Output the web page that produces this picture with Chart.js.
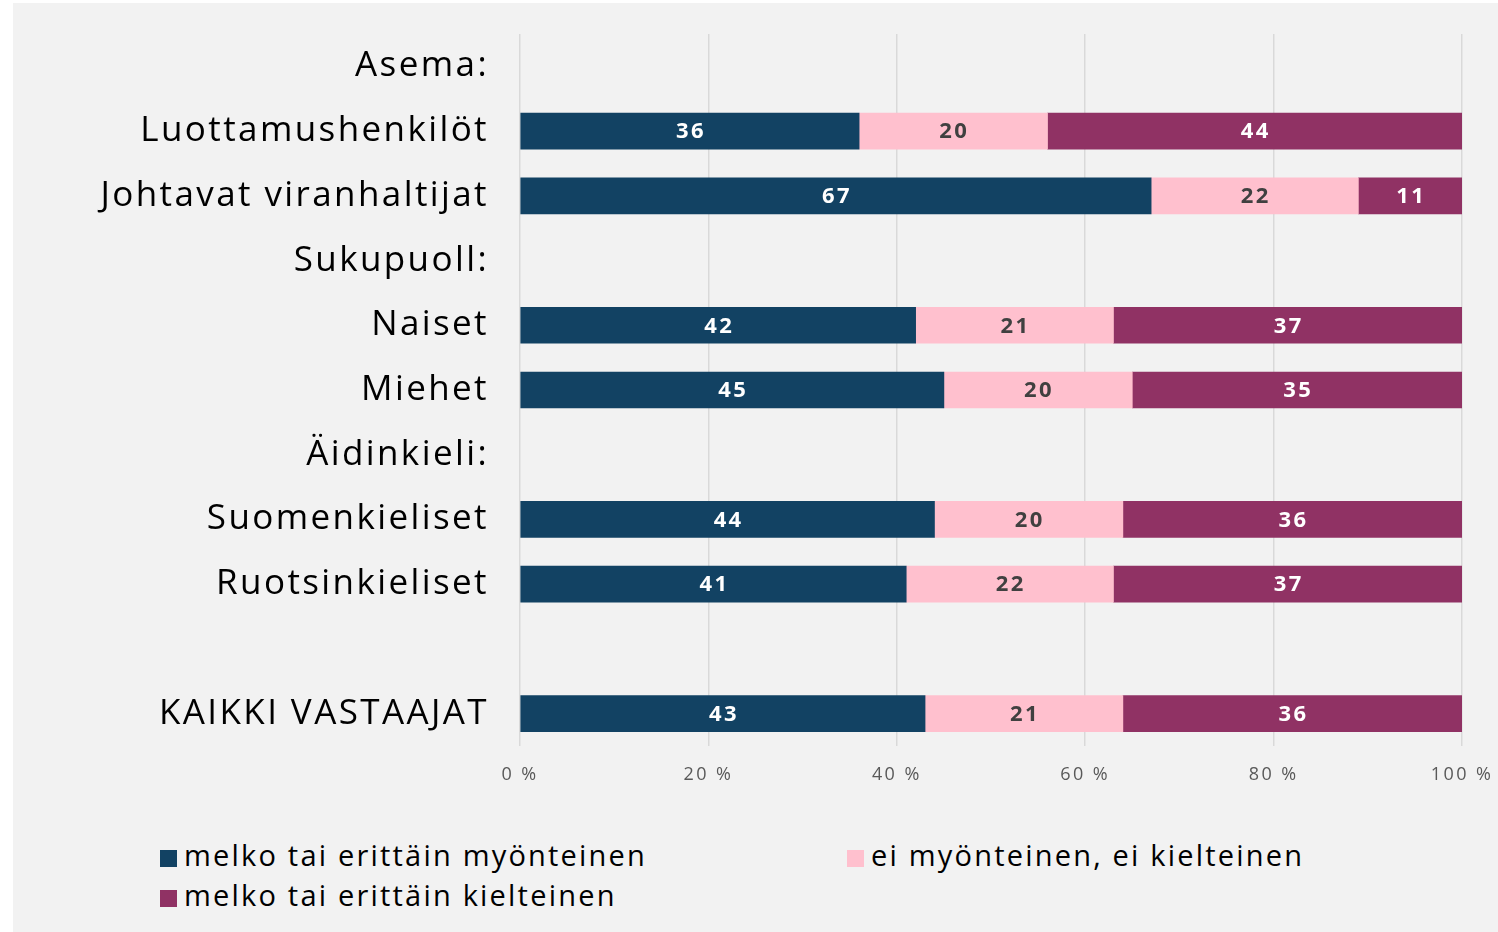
<!DOCTYPE html>
<html>
<head>
<meta charset="utf-8">
<script src="https://cdn.jsdelivr.net/npm/chart.js@4.4.0/dist/chart.umd.min.js"></script>
<style>
  html, body { margin: 0; padding: 0; background: #ffffff; }
  #kehys { position: absolute; left: 13px; top: 3px; width: 1485px; height: 929px; background: #f2f2f2; }
  #kaavio { position: absolute; left: 0; top: 0; width: 1485px; height: 800px; }
  .selite { position: absolute; font-family: "Open Sans", sans-serif; font-size: 29px; letter-spacing: 2.2px; color: #000; white-space: nowrap; line-height: 40px; }
  .selite span { display: inline-block; width: 17px; height: 17px; margin-right: 7px; vertical-align: -1px; }
</style>
</head>
<body>
<div id="kehys">
  <div id="kaavio"><canvas id="graafi"></canvas></div>
  <div id="selitteet"></div>
</div>
<script>
const ryhmat = ['Asema:', 'Luottamushenkilöt', 'Johtavat viranhaltijat', 'Sukupuoll:', 'Naiset', 'Miehet', 'Äidinkieli:', 'Suomenkieliset', 'Ruotsinkieliset', '', 'KAIKKI VASTAAJAT'];
const sarjat = ['melko tai erittäin myönteinen', 'ei myönteinen, ei kielteinen', 'melko tai erittäin kielteinen'];
const myonteinen = [null, 36, 67, null, 42, 45, null, 44, 41, null, 43];
const neutraali = [null, 20, 22, null, 21, 20, null, 20, 22, null, 21];
const kielteinen = [null, 44, 11, null, 37, 35, null, 36, 37, null, 36];
const varit = ['#124263', '#ffc0ce', '#903264'];
const tekstivarit = ['#ffffff', '#404040', '#ffffff'];
const akseliTicks = [0, 20, 40, 60, 80, 100];

// väljempi kirjainväli koko kaavioon
const kirjainvali = {
    id: 'kirjainvali',
    beforeDraw(chart) { chart.ctx.letterSpacing = '2.4px'; },
    afterDraw(chart) { chart.ctx.letterSpacing = '0px'; }
};

// arvot palkkien keskelle
const arvoTekstit = {
    id: 'arvoTekstit',
    afterDatasetsDraw(chart) {
        const ctx = chart.ctx;
        ctx.save();
        ctx.font = 'bold 22px "Open Sans", sans-serif';
        ctx.letterSpacing = '2.4px';
        ctx.textAlign = 'center';
        ctx.textBaseline = 'middle';
        chart.data.datasets.forEach((ds, i) => {
            chart.getDatasetMeta(i).data.forEach((bar, j) => {
                const v = ds.data[j];
                if (v == null) return;
                ctx.fillStyle = tekstivarit[i];
                ctx.fillText(v, (bar.x + bar.base) / 2 + 1, bar.y + 1);
            });
        });
        ctx.restore();
    }
};

const ctx = document.getElementById('graafi').getContext('2d');
new Chart(ctx, {
    type: 'bar',
    data: {
        labels: ryhmat,
        datasets: [
            { label: sarjat[0], data: myonteinen, backgroundColor: varit[0], barThickness: 36 },
            { label: sarjat[1], data: neutraali, backgroundColor: varit[1], barThickness: 36 },
            { label: sarjat[2], data: kielteinen, backgroundColor: varit[2], barThickness: 36 }
        ]
    },
    options: {
        indexAxis: 'y',
        responsive: true,
        maintainAspectRatio: false,
        animation: false,
        layout: { padding: { top: 31, right: 36, left: 0, bottom: 0 } },
        plugins: { legend: { display: false }, tooltip: { enabled: false } },
        scales: {
            x: {
                stacked: true,
                min: 0,
                max: 100,
                afterBuildTicks: (s) => { s.ticks = akseliTicks.map(v => ({ value: v })); },
                afterFit: (s) => { s.height = 57; s.paddingLeft = 0; s.paddingRight = 0; },
                grid: { color: '#d9d9d9', lineWidth: 1.5, drawTicks: false },
                border: { display: false },
                ticks: {
                    padding: 18,
                    color: '#595959',
                    font: { family: '"Open Sans", sans-serif', size: 18 },
                    callback: (v) => v + ' %'
                }
            },
            y: {
                stacked: true,
                afterFit: (s) => { s.width = 507; s.paddingTop = 0; s.paddingBottom = 0; },
                grid: { display: false, drawTicks: false },
                border: { display: false },
                ticks: {
                    padding: 31,
                    color: '#000000',
                    font: { family: '"Open Sans", sans-serif', size: 35 }
                }
            }
        }
    },
    plugins: [kirjainvali, arvoTekstit]
});

// selite kahteen sarakkeeseen
const paikat = [[147, 832], [834, 832], [147, 872]];
const sel = document.getElementById('selitteet');
sarjat.forEach((nimi, i) => {
    const d = document.createElement('div');
    d.className = 'selite';
    d.style.left = paikat[i][0] + 'px';
    d.style.top = paikat[i][1] + 'px';
    d.innerHTML = '<span style="background:' + varit[i] + '"></span>' + nimi;
    sel.appendChild(d);
});
</script>
</body>
</html>
